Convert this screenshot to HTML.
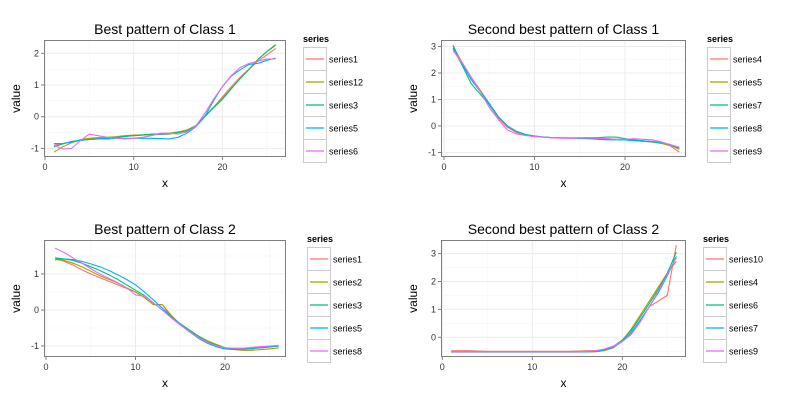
<!DOCTYPE html>
<html><head><meta charset="utf-8"><style>
body{margin:0;background:#fff;}
svg text{font-family:"Liberation Sans",sans-serif;}
</style></head><body>
<svg id="c" width="800" height="400" xmlns="http://www.w3.org/2000/svg"></svg>
<script>
const xValues=[1,2,3,4,5,6,7,8,9,10,11,12,13,14,15,16,17,18,19,20,21,22,23,24,25,26];
const colors=["#F8766D","#A3A500","#00BF7D","#00B0F6","#E76BF3"];
// Panel 1
const p1Names=["series1","series12","series3","series5","series6"];
const p1s1=[-0.9,-0.85,-0.8,-0.75,-0.7,-0.68,-0.66,-0.64,-0.62,-0.6,-0.58,-0.57,-0.56,-0.55,-0.5,-0.45,-0.3,0,0.3,0.62,0.95,1.25,1.5,1.75,1.95,2.15];
const p1s2=[-1.12,-0.95,-0.82,-0.72,-0.68,-0.66,-0.65,-0.63,-0.6,-0.58,-0.57,-0.55,-0.54,-0.52,-0.48,-0.42,-0.28,0.02,0.3,0.58,0.9,1.2,1.5,1.8,2.05,2.25];
const p1s3=[-0.95,-0.86,-0.78,-0.74,-0.72,-0.7,-0.68,-0.65,-0.62,-0.6,-0.58,-0.56,-0.55,-0.54,-0.5,-0.44,-0.3,0,0.28,0.55,0.88,1.2,1.5,1.8,2.05,2.27];
const p1s4=[-0.85,-0.85,-0.8,-0.75,-0.72,-0.7,-0.7,-0.68,-0.68,-0.68,-0.68,-0.68,-0.69,-0.7,-0.65,-0.52,-0.32,0.0,0.5,0.95,1.28,1.48,1.65,1.68,1.78,1.85];
const p1s5=[-0.9,-1.02,-1.0,-0.75,-0.55,-0.6,-0.65,-0.67,-0.7,-0.68,-0.65,-0.6,-0.52,-0.52,-0.55,-0.48,-0.3,0.1,0.55,0.95,1.3,1.55,1.68,1.75,1.82,1.82];
// Panel 2
const p2Names=["series4","series5","series7","series8","series9"];
const p2s1=[2.9,2.3,1.8,1.3,0.8,0.3,-0.05,-0.25,-0.35,-0.4,-0.42,-0.45,-0.45,-0.45,-0.45,-0.47,-0.48,-0.48,-0.5,-0.52,-0.55,-0.58,-0.6,-0.65,-0.75,-0.98];
const p2s2=[3.0,2.4,1.85,1.35,0.85,0.35,0,-0.22,-0.33,-0.38,-0.42,-0.44,-0.45,-0.45,-0.45,-0.46,-0.47,-0.5,-0.5,-0.52,-0.55,-0.57,-0.6,-0.66,-0.72,-0.88];
const p2s3=[3.05,2.3,1.6,1.2,0.8,0.35,0,-0.2,-0.32,-0.38,-0.42,-0.44,-0.45,-0.45,-0.45,-0.44,-0.44,-0.42,-0.42,-0.48,-0.52,-0.56,-0.6,-0.62,-0.7,-0.85];
const p2s4=[2.95,2.35,1.75,1.3,0.85,0.35,0,-0.2,-0.32,-0.38,-0.42,-0.44,-0.45,-0.46,-0.47,-0.48,-0.5,-0.52,-0.52,-0.53,-0.55,-0.56,-0.58,-0.62,-0.7,-0.82];
const p2s5=[2.85,2.4,1.85,1.3,0.7,0.25,-0.15,-0.3,-0.36,-0.4,-0.42,-0.45,-0.46,-0.46,-0.45,-0.45,-0.46,-0.48,-0.5,-0.5,-0.48,-0.5,-0.52,-0.6,-0.7,-0.8];
// Panel 3
const p3Names=["series1","series2","series3","series5","series8"];
const p3s1=[1.45,1.35,1.25,1.12,1.0,0.9,0.8,0.7,0.6,0.5,0.35,0.15,0.15,-0.2,-0.4,-0.6,-0.75,-0.88,-0.98,-1.05,-1.08,-1.1,-1.08,-1.05,-1.02,-1.0];
const p3s2=[1.4,1.38,1.3,1.2,1.08,0.95,0.85,0.75,0.62,0.5,0.35,0.15,0.15,-0.15,-0.4,-0.58,-0.72,-0.85,-0.95,-1.05,-1.1,-1.12,-1.12,-1.1,-1.08,-1.05];
const p3s3=[1.45,1.42,1.38,1.3,1.2,1.1,0.98,0.85,0.7,0.55,0.4,0.2,0,-0.2,-0.38,-0.55,-0.72,-0.88,-0.98,-1.05,-1.08,-1.08,-1.06,-1.05,-1.03,-1.0];
const p3s4=[1.4,1.42,1.4,1.35,1.28,1.2,1.1,0.98,0.85,0.7,0.5,0.28,0.05,-0.18,-0.4,-0.6,-0.78,-0.92,-1.02,-1.08,-1.1,-1.08,-1.06,-1.04,-1.02,-1.0];
const p3s5=[1.72,1.6,1.45,1.3,1.15,1.0,0.88,0.76,0.62,0.42,0.38,0.2,0,-0.22,-0.42,-0.6,-0.76,-0.9,-1.0,-1.05,-1.06,-1.06,-1.04,-1.02,-1.0,-0.98];
// Panel 4
const p4Names=["series10","series4","series6","series7","series9"];
const p4s1=[-0.48,-0.48,-0.48,-0.49,-0.5,-0.5,-0.5,-0.5,-0.5,-0.5,-0.5,-0.5,-0.5,-0.5,-0.49,-0.48,-0.48,-0.45,-0.35,-0.15,0.15,0.6,1.1,1.3,1.5,3.3];
const p4s2=[-0.52,-0.52,-0.52,-0.52,-0.52,-0.52,-0.52,-0.52,-0.52,-0.52,-0.52,-0.52,-0.52,-0.52,-0.52,-0.52,-0.52,-0.48,-0.38,-0.12,0.3,0.8,1.3,1.8,2.3,2.72];
const p4s3=[-0.52,-0.52,-0.52,-0.52,-0.52,-0.52,-0.52,-0.52,-0.52,-0.52,-0.52,-0.52,-0.52,-0.52,-0.52,-0.52,-0.5,-0.45,-0.33,-0.1,0.25,0.72,1.22,1.72,2.3,3.05];
const p4s4=[-0.53,-0.53,-0.53,-0.53,-0.53,-0.53,-0.53,-0.53,-0.53,-0.53,-0.53,-0.53,-0.53,-0.53,-0.53,-0.52,-0.5,-0.45,-0.35,-0.15,0.18,0.62,1.1,1.6,2.2,2.9];
const p4s5=[-0.52,-0.52,-0.52,-0.52,-0.52,-0.52,-0.52,-0.52,-0.52,-0.52,-0.52,-0.52,-0.52,-0.52,-0.52,-0.5,-0.48,-0.42,-0.32,-0.15,0.1,0.55,1.1,1.65,2.25,2.85];
const xTickVals=[0,10,20];
const p1YTicks=[-1,0,1,2];
const p2YTicks=[-1,0,1,2,3];
const p3YTicks=[-1,0,1];
const p4YTicks=[0,1,2,3];

const panels=[
 {title:"Best pattern of Class 1",L:44,R:286,T:40,B:157,x0:45,x10:133.7,yA:0,yAp:116.7,yB:1,yBp:85,ticks:p1YTicks,names:p1Names,series:[p1s1,p1s2,p1s3,p1s4,p1s5],lx:303},
 {title:"Second best pattern of Class 1",L:441,R:686,T:40,B:157,x0:444,x10:534.5,yA:0,yAp:126,yB:1,yBp:99.5,ticks:p2YTicks,names:p2Names,series:[p2s1,p2s2,p2s3,p2s4,p2s5],lx:707},
 {title:"Best pattern of Class 2",L:44,R:286,T:240,B:357,x0:46,x10:135.5,yA:0,yAp:310,yB:1,yBp:274,ticks:p3YTicks,names:p3Names,series:[p3s1,p3s2,p3s3,p3s4,p3s5],lx:307},
 {title:"Second best pattern of Class 2",L:441,R:686,T:240,B:357,x0:442.3,x10:532.3,yA:0,yAp:337.3,yB:1,yBp:309.4,ticks:p4YTicks,names:p4Names,series:[p4s1,p4s2,p4s3,p4s4,p4s5],lx:703}
];
const svg=document.getElementById('c');
const NS="http://www.w3.org/2000/svg";
function mk(tag,attrs,parent){const e=document.createElementNS(NS,tag);for(const k in attrs)e.setAttribute(k,attrs[k]);(parent||svg).appendChild(e);return e;}
panels.forEach((p,pi)=>{
 const g=mk('g',{});
 
 
 const xs=v=>p.x0+(p.x10-p.x0)*v/10;
 const ys=v=>p.yAp+(p.yBp-p.yAp)*(v-p.yA)/(p.yB-p.yA);
 const bg=mk('rect',{x:p.L,y:p.T,width:p.R-p.L,height:p.B-p.T,fill:'#fff'},g);
 
 
 for(let v=-5;v<=35;v+=5){const X=xs(v);if(X>p.L&&X<p.R)mk('line',{x1:X,x2:X,y1:p.T,y2:p.B,stroke:v%10===0?'#ececec':'#f6f6f6','stroke-width':v%10===0?1:0.6},g);}
 for(let v=-3;v<=5;v+=0.5){const Y=ys(v);if(Y>p.T&&Y<p.B)mk('line',{x1:p.L,x2:p.R,y1:Y,y2:Y,stroke:Number.isInteger(v)?'#ececec':'#f6f6f6','stroke-width':Number.isInteger(v)?1:0.6},g);}
 p.series.forEach((s,si)=>{
  const d=s.map((v,i)=>(i?'L':'M')+xs(xValues[i]).toFixed(1)+','+ys(v).toFixed(1)).join('');
  const path=mk('path',{d:d,fill:'none',stroke:colors[si],'stroke-width':1.1},g);
  
  
 });
 const bd=mk('rect',{x:p.L+0.5,y:p.T+0.5,width:p.R-p.L-1,height:p.B-p.T-1,fill:'none',stroke:'#7f7f7f','stroke-width':1},g);
 
 
 xTickVals.forEach(v=>{const X=xs(v);mk('line',{x1:X,x2:X,y1:p.B,y2:p.B+3,stroke:'#7f7f7f'},g);
  const t=mk('text',{x:X,y:p.B+13,'font-size':9,'text-anchor':'middle',fill:'#333'},g);t.textContent=v;
  });
 p.ticks.forEach(v=>{const Y=ys(v);mk('line',{x1:p.L-3,x2:p.L,y1:Y,y2:Y,stroke:'#7f7f7f'},g);
  const t=mk('text',{x:p.L-5,y:Y+3,'font-size':9,'text-anchor':'end',fill:'#333'},g);t.textContent=v;
  });
 const tt=mk('text',{x:(p.L+p.R)/2,y:p.T-6,'font-size':14,'text-anchor':'middle',fill:'#000'},g);tt.textContent=p.title;
 
 const xt=mk('text',{x:(p.L+p.R)/2,y:p.B+30,'font-size':12,'text-anchor':'middle',fill:'#000'},g);xt.textContent='x';
 
 const yt=mk('text',{x:0,y:0,'font-size':12,'text-anchor':'middle',fill:'#000',transform:`translate(${p.L-24},${(p.T+p.B)/2}) rotate(-90)`},g);yt.textContent='value';
 
 const lg=mk('g',{},g);
 
 
 const lt=mk('text',{x:p.lx,y:p.T+2,'font-size':9,'font-weight':'bold',fill:'#000'},lg);lt.textContent='series';
 
 p.names.forEach((n,i)=>{const y0=p.T+7+i*23;
  const e=mk('g',{},lg);
  
  
  mk('rect',{x:p.lx+0.5,y:y0+0.5,width:23,height:23,fill:'#fff',stroke:'#ccc'},e);
  mk('line',{x1:p.lx+3,x2:p.lx+21,y1:y0+12,y2:y0+12,stroke:colors[i],'stroke-width':1.2},e);
  const t=mk('text',{x:p.lx+26,y:y0+15.5,'font-size':9,fill:'#000'},e);t.textContent=n;});
});
</script>
</body></html>
